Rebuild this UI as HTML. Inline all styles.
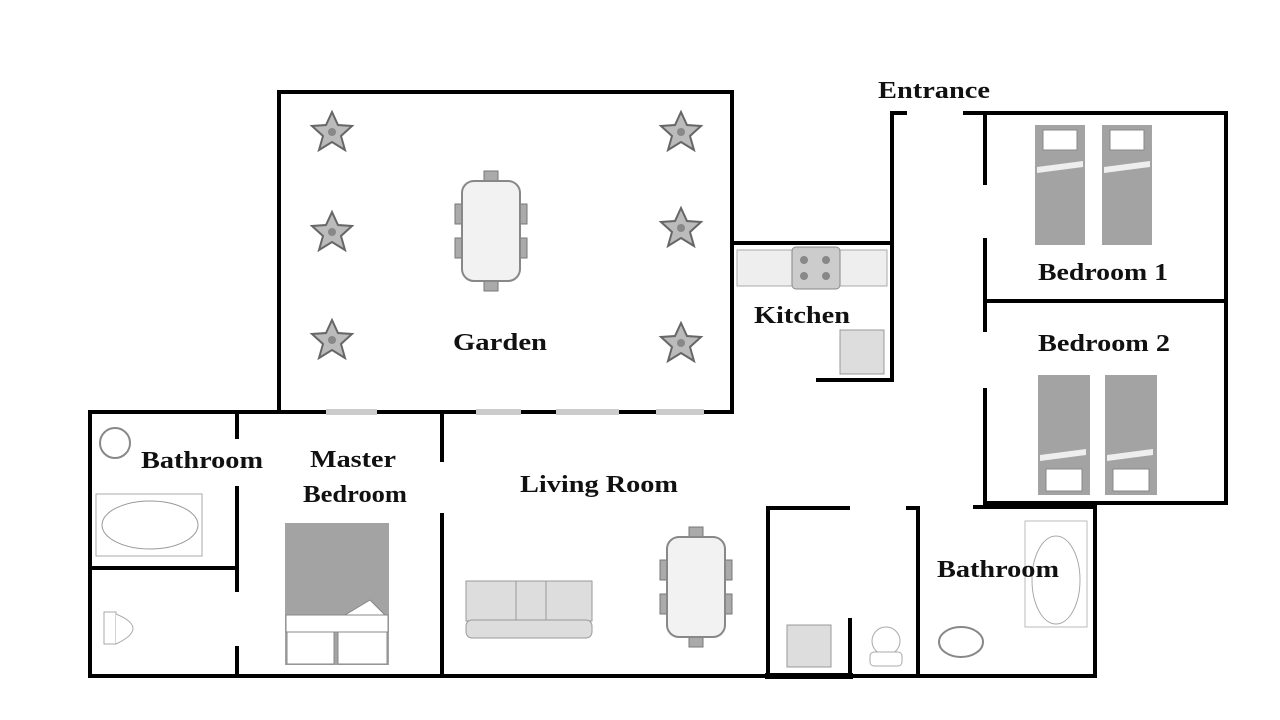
<!DOCTYPE html>
<html><head><meta charset="utf-8"><style>
html,body{margin:0;padding:0;background:#fff;}
svg{display:block;}
text{font-family:"Liberation Serif",serif;font-weight:bold;fill:#111;}
</style></head><body>
<svg width="1280" height="720" viewBox="0 0 1280 720" xmlns="http://www.w3.org/2000/svg">
<defs>
<g id="plant">
<path d="M0,-20 L6,-7 L20,-6 L9,4 L13,18 L0,10 L-13,18 L-9,4 L-20,-6 L-6,-7 Z" fill="#bbb" stroke="#666" stroke-width="2"/>
<circle r="4" fill="#888"/>
</g>
<g id="table6">
<rect x="-7" y="-60" width="14" height="10" fill="#aaa" stroke="#777"/>
<rect x="-7" y="50" width="14" height="10" fill="#aaa" stroke="#777"/>
<rect x="-36" y="-27" width="8" height="20" fill="#aaa" stroke="#777"/>
<rect x="-36" y="7" width="8" height="20" fill="#aaa" stroke="#777"/>
<rect x="28" y="-27" width="8" height="20" fill="#aaa" stroke="#777"/>
<rect x="28" y="7" width="8" height="20" fill="#aaa" stroke="#777"/>
<rect x="-29" y="-50" width="58" height="100" rx="12" fill="#f2f2f2" stroke="#888" stroke-width="2"/>
</g>
<g id="bedT">
<rect x="0" y="0" width="50" height="120" fill="#a3a3a3"/>
<rect x="8" y="5" width="34" height="20" fill="#fff" stroke="#888"/>
<path d="M2,42 L48,36 L48,42 L2,48 Z" fill="#eee"/>
</g>
<g id="bedB">
<rect x="0" y="0" width="52" height="120" fill="#a3a3a3"/>
<rect x="8" y="94" width="36" height="22" fill="#fff" stroke="#888"/>
<path d="M2,80 L48,74 L48,80 L2,86 Z" fill="#eee"/>
</g>
</defs>

<g stroke="#000" stroke-width="4" fill="none" stroke-linecap="square">
<path d="M279,92 H732 V412"/>
<path d="M279,92 V412"/>
<path d="M90,412 H325 M378,412 H475 M522,412 H555 M620,412 H655 M705,412 H732" />
<path d="M90,412 V676 H1095"/>
<path d="M237,412 V437 M237,488 V590 M237,648 V676"/>
<path d="M90,568 H237"/>
<path d="M442,412 V460 M442,515 V676"/>
<path d="M848,508 H768 V676"/>
<path d="M908,508 H918 V676"/>
<path d="M850,620 V676"/>
<path d="M768,676 H850" stroke-width="6"/>
<path d="M975,507 H1095 V676"/>
<path d="M965,113 H1226 V503 H985"/>
<path d="M985,301 H1226"/>
<path d="M985,113 V183 M985,240 V330 M985,390 V503"/>
<path d="M905,113 H892 V380 H818"/>
<path d="M732,243 H892"/>
</g>
<g fill="#ccc">
<rect x="326" y="409" width="51" height="6"/>
<rect x="476" y="409" width="45" height="6"/>
<rect x="556" y="409" width="63" height="6"/>
<rect x="656" y="409" width="48" height="6"/>
</g>

<use href="#plant" x="332" y="132"/>
<use href="#plant" x="332" y="232"/>
<use href="#plant" x="332" y="340"/>
<use href="#plant" x="681" y="132"/>
<use href="#plant" x="681" y="228"/>
<use href="#plant" x="681" y="343"/>
<use href="#table6" x="491" y="231"/>

<rect x="737" y="250" width="150" height="36" fill="#eee" stroke="#aaa"/>
<rect x="792" y="247" width="48" height="42" rx="4" fill="#ccc" stroke="#888"/>
<circle cx="804" cy="260" r="4" fill="#888"/><circle cx="826" cy="260" r="4" fill="#888"/>
<circle cx="804" cy="276" r="4" fill="#888"/><circle cx="826" cy="276" r="4" fill="#888"/>
<rect x="840" y="330" width="44" height="44" fill="#ddd" stroke="#999"/>

<use href="#bedT" x="1035" y="125"/>
<use href="#bedT" x="1102" y="125"/>
<use href="#bedB" x="1038" y="375"/>
<use href="#bedB" x="1105" y="375"/>

<rect x="285" y="523" width="104" height="142" fill="#a3a3a3"/>
<path d="M286,615 H388 V632 H286 Z" fill="#fff" stroke="#888"/>
<path d="M345,615 L370,600 L385,615 Z" fill="#fff" stroke="#888"/>
<rect x="287" y="632" width="47" height="32" fill="#fff" stroke="#888"/>
<rect x="338" y="632" width="49" height="32" fill="#fff" stroke="#888"/>

<circle cx="115" cy="443" r="15" fill="#fff" stroke="#888" stroke-width="2"/>
<rect x="96" y="494" width="106" height="62" fill="#fff" stroke="#aaa"/>
<ellipse cx="150" cy="525" rx="48" ry="24" fill="#fff" stroke="#999"/>
<rect x="104" y="612" width="12" height="32" fill="#fff" stroke="#aaa"/>
<path d="M116,614 Q150,628 116,644" fill="#fff" stroke="#aaa"/>

<rect x="466" y="581" width="126" height="40" fill="#ddd" stroke="#999"/>
<rect x="466" y="620" width="126" height="18" rx="6" fill="#ddd" stroke="#999"/>
<path d="M516,581 V620 M546,581 V620" stroke="#999"/>
<use href="#table6" x="696" y="587"/>

<rect x="787" y="625" width="44" height="42" fill="#ddd" stroke="#999"/>
<circle cx="886" cy="641" r="14" fill="#fff" stroke="#aaa"/>
<rect x="870" y="652" width="32" height="14" rx="4" fill="#fff" stroke="#aaa"/>
<rect x="1025" y="521" width="62" height="106" fill="#fff" stroke="#bbb"/>
<ellipse cx="1056" cy="580" rx="24" ry="44" fill="#fff" stroke="#aaa"/>
<ellipse cx="961" cy="642" rx="22" ry="15" fill="#fff" stroke="#888" stroke-width="2"/>

<g font-size="24" lengthAdjust="spacingAndGlyphs">
<text x="878" y="98" textLength="112" lengthAdjust="spacingAndGlyphs">Entrance</text>
<text x="453" y="350" textLength="94" lengthAdjust="spacingAndGlyphs">Garden</text>
<text x="754" y="323" textLength="96" lengthAdjust="spacingAndGlyphs">Kitchen</text>
<text x="1038" y="280" textLength="130" lengthAdjust="spacingAndGlyphs">Bedroom 1</text>
<text x="1038" y="351" textLength="132" lengthAdjust="spacingAndGlyphs">Bedroom 2</text>
<text x="141" y="468" textLength="122" lengthAdjust="spacingAndGlyphs">Bathroom</text>
<text x="310" y="467" textLength="86" lengthAdjust="spacingAndGlyphs">Master</text>
<text x="303" y="502" textLength="104" lengthAdjust="spacingAndGlyphs">Bedroom</text>
<text x="520" y="492" textLength="158" lengthAdjust="spacingAndGlyphs">Living Room</text>
<text x="937" y="577" textLength="122" lengthAdjust="spacingAndGlyphs">Bathroom</text>
</g>
</svg>
</body></html>
